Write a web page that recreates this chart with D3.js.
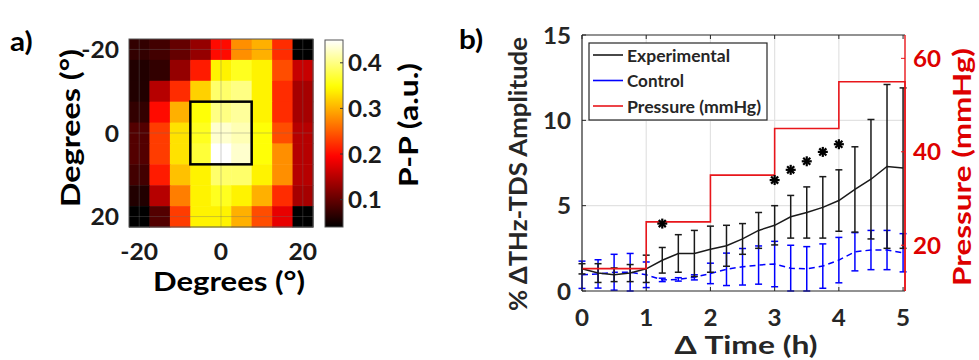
<!DOCTYPE html>
<html>
<head>
<meta charset="utf-8">
<script src="https://cdn.jsdelivr.net/npm/d3@7"></script>
<style>
  body { margin: 0; background: #fff; }
  text { font-family: Lato, "Open Sans", sans-serif; font-weight: 700; }
</style>
</head>
<body>
<div id="chart"></div>
<script>
// panel a: 9x9 peak-to-peak map, rows top (-20) to bottom (+20)
var degCenters = [-20, -15, -10, -5, 0, 5, 10, 15, 20];
var heatRows = [
  [0.07, 0.08, 0.10, 0.13, 0.20, 0.28, 0.30, 0.22, 0.04],
  [0.06, 0.07, 0.13, 0.21, 0.34, 0.36, 0.34, 0.24, 0.16],
  [0.06, 0.15, 0.22, 0.32, 0.39, 0.40, 0.34, 0.22, 0.14],
  [0.07, 0.20, 0.30, 0.35, 0.40, 0.41, 0.34, 0.22, 0.14],
  [0.09, 0.23, 0.33, 0.36, 0.43, 0.42, 0.35, 0.24, 0.15],
  [0.09, 0.23, 0.33, 0.37, 0.45, 0.43, 0.35, 0.28, 0.15],
  [0.08, 0.21, 0.31, 0.34, 0.39, 0.39, 0.34, 0.28, 0.15],
  [0.06, 0.15, 0.27, 0.34, 0.36, 0.34, 0.30, 0.22, 0.14],
  [0.04, 0.09, 0.23, 0.34, 0.34, 0.30, 0.24, 0.18, 0.04]
];
var degTicks = [-20, 0, 20];
var cbTicks = [0.1, 0.2, 0.3, 0.4];

// panel b: time series
var times = [0, 0.25, 0.5, 0.75, 1, 1.25, 1.5, 1.75, 2, 2.25, 2.5, 2.75, 3, 3.25, 3.5, 3.75, 4, 4.25, 4.5, 4.75, 5];
var expMean = [1.3, 1.05, 0.95, 1.05, 1.3, 1.8, 2.2, 2.2, 2.45, 2.65, 3.05, 3.55, 3.85, 4.35, 4.6, 4.9, 5.3, 5.95, 6.55, 7.3, 7.2];
var expErr  = [0.3, 0.55, 0.4, 0.5, 0.8, 0.75, 1.1, 1.35, 1.35, 1.2, 0.9, 1.05, 1.15, 1.25, 1.5, 1.8, 1.8, 2.5, 3.5, 4.8, 4.7];
var ctlMean = [0.95, 1.0, 1.1, 1.1, 0.95, 0.65, 0.68, 0.8, 1.03, 1.27, 1.42, 1.52, 1.58, 1.33, 1.3, 1.46, 1.81, 2.3, 2.4, 2.4, 2.24];
var ctlErr  = [0.8, 0.83, 1.05, 1.1, 0.75, 0.1, 0.1, 0.15, 0.6, 0.95, 1.07, 1.12, 1.33, 1.35, 1.3, 1.3, 1.33, 1.12, 1.15, 1.15, 1.12];
var pressStart = [0, 1, 2, 3, 4];
var pressVals = [15, 25, 35, 45, 55];
var starTimes = [1.25, 3, 3.25, 3.5, 3.75, 4];
var starVals = [3.95, 6.5, 7.1, 7.6, 8.15, 8.6];
var xTicks = [0, 1, 2, 3, 4, 5];
var yTicks = [0, 5, 10, 15];
var pTicks = [20, 40, 60];

var svg = d3.select("#chart").append("svg").attr("width", 979).attr("height", 360);

// the figure's lettering is wider than Lato: stretch glyphs sideways
function toWidth(sel, w) {
  return sel.attr("textLength", w).attr("lengthAdjust", "spacingAndGlyphs");
}
function widen(sel, k) {
  return toWidth(sel, sel.node().getComputedTextLength() * k);
}

// matlab "hot"
function hot(t) {
  t = Math.max(0, Math.min(1, t));
  var r = Math.min(1, t / 0.375), g = Math.max(0, Math.min(1, (t - 0.375) / 0.375)), b = Math.max(0, (t - 0.75) / 0.25);
  return d3.rgb(r * 255, g * 255, b * 255);
}
var cMin = 0.04, cMax = 0.45;
var color = function(v) { return hot((v - cMin) / (cMax - cMin)); };

// ---------- panel a ----------
var xa = d3.scaleLinear().domain([-22.5, 22.5]).range([129, 313]);
var ya = d3.scaleLinear().domain([-22.5, 22.5]).range([39, 227]);
var ga = svg.append("g");

heatRows.forEach(function(row, i) {
  row.forEach(function(v, j) {
    ga.append("rect")
      .attr("x", xa(degCenters[j] - 2.5)).attr("y", ya(degCenters[i] - 2.5))
      .attr("width", xa(2.5) - xa(-2.5) + 0.5).attr("height", ya(2.5) - ya(-2.5) + 0.5)
      .attr("fill", color(v));
  });
});
degTicks.forEach(function(d) {
  ga.append("line").attr("x1", xa(d)).attr("x2", xa(d)).attr("y1", ya(-22.5)).attr("y2", ya(22.5))
    .attr("stroke", "rgba(110,110,110,0.35)").attr("stroke-width", 1);
  ga.append("line").attr("y1", ya(d)).attr("y2", ya(d)).attr("x1", xa(-22.5)).attr("x2", xa(22.5))
    .attr("stroke", "rgba(110,110,110,0.35)").attr("stroke-width", 1);
});
// box region
ga.append("rect").attr("x", xa(-7.5)).attr("y", ya(-7.5))
  .attr("width", xa(7.5) - xa(-7.5)).attr("height", ya(7.5) - ya(-7.5))
  .attr("fill", "none").attr("stroke", "#000").attr("stroke-width", 2.5);
ga.append("rect").attr("x", xa(-22.5)).attr("y", ya(-22.5))
  .attr("width", xa(22.5) - xa(-22.5)).attr("height", ya(22.5) - ya(-22.5))
  .attr("fill", "none").attr("stroke", "#555").attr("stroke-width", 1);

degTicks.forEach(function(d) {
  widen(ga.append("text").attr("x", xa(d)).attr("y", 251).attr("text-anchor", "middle")
    .attr("dominant-baseline", "central").attr("font-size", 22).attr("fill", "#1a1a1a").text(d), 1.12);
  widen(ga.append("text").attr("x", 119).attr("y", ya(d)).attr("text-anchor", "end")
    .attr("dominant-baseline", "central").attr("font-size", 22).attr("fill", "#1a1a1a").text(d), 1.12);
});
toWidth(ga.append("text").attr("x", 229).attr("y", 281).attr("text-anchor", "middle")
  .attr("dominant-baseline", "central").attr("font-size", 26).text("Degrees (°)"), 152);
toWidth(ga.append("text").attr("transform", "translate(70,128) rotate(-90)").attr("text-anchor", "middle")
  .attr("dominant-baseline", "central").attr("font-size", 26).text("Degrees (°)"), 158);
widen(svg.append("text").attr("x", 10).attr("y", 51).attr("font-size", 27).text("a)"), 1.1);

// colorbar
var cb = d3.scaleLinear().domain([cMin, cMax]).range([227, 40]);
var grad = svg.append("defs").append("linearGradient").attr("id", "hotgrad")
  .attr("x1", 0).attr("x2", 0).attr("y1", 1).attr("y2", 0);
d3.range(0, 1.0001, 0.02).forEach(function(t) {
  grad.append("stop").attr("offset", t).attr("stop-color", hot(t));
});
svg.append("rect").attr("x", 325).attr("y", cb(cMax)).attr("width", 18).attr("height", cb(cMin) - cb(cMax))
  .attr("fill", "url(#hotgrad)").attr("stroke", "#555").attr("stroke-width", 1);
cbTicks.forEach(function(v) {
  svg.append("line").attr("x1", 340).attr("x2", 343).attr("y1", cb(v)).attr("y2", cb(v)).attr("stroke", "#333");
  widen(svg.append("text").attr("x", 348).attr("y", cb(v)).attr("dominant-baseline", "central")
    .attr("font-size", 22).attr("fill", "#1a1a1a").text(v.toFixed(1)), 1.1);
});
toWidth(svg.append("text").attr("transform", "translate(408,125) rotate(-90)").attr("text-anchor", "middle")
  .attr("dominant-baseline", "central").attr("font-size", 26).text("P-P (a.u.)"), 124);

// ---------- panel b ----------
var xb = d3.scaleLinear().domain([0, 5.03]).range([582, 905]);
var yl = d3.scaleLinear().domain([0, 15]).range([291, 35]);
var yr = d3.scaleLinear().domain([10.2, 65]).range([291, 35]);
var gb = svg.append("g");

[1, 2, 3, 4].forEach(function(t) {
  gb.append("line").attr("x1", xb(t)).attr("x2", xb(t)).attr("y1", yl(0)).attr("y2", yl(15))
    .attr("stroke", "#e2e2e2").attr("stroke-width", 1.2);
});
[5, 10].forEach(function(v) {
  gb.append("line").attr("x1", xb(0)).attr("x2", xb(5.03)).attr("y1", yl(v)).attr("y2", yl(v))
    .attr("stroke", "#e2e2e2").attr("stroke-width", 1.2);
});

function errBars(mean, err, col, dash) {
  var g = gb.append("g");
  times.forEach(function(t, i) {
    var lo = yl(Math.max(0, mean[i] - err[i])), hi = yl(mean[i] + err[i]), x = xb(t);
    g.append("line").attr("x1", x).attr("x2", x).attr("y1", lo).attr("y2", hi).attr("stroke", col).attr("stroke-width", 1.5);
    [lo, hi].forEach(function(y) {
      g.append("line").attr("x1", x - 3.5).attr("x2", x + 3.5).attr("y1", y).attr("y2", y).attr("stroke", col).attr("stroke-width", 1.5);
    });
  });
  var line = d3.line().x(function(d, i) { return xb(times[i]); }).y(function(d) { return yl(d); });
  g.append("path").datum(mean).attr("d", line).attr("fill", "none").attr("stroke", col)
    .attr("stroke-width", 1.5).attr("stroke-dasharray", dash);
}
errBars(ctlMean, ctlErr, "#0000ff", "6,4");
errBars(expMean, expErr, "#1a1a1a", null);

// pressure steps
var pressPts = pressStart.map(function(t, i) { return [t, pressVals[i]]; });
pressPts.push([5.03, pressVals[pressVals.length - 1]]);
pressPts.push([5.03, 10.2]);
gb.append("path").datum(pressPts)
  .attr("d", d3.line().curve(d3.curveStepAfter).x(function(d) { return xb(d[0]); }).y(function(d) { return yr(d[1]); }))
  .attr("fill", "none").attr("stroke", "#e8161b").attr("stroke-width", 1.6);

// asterisks
starTimes.forEach(function(t, i) {
  var cx = xb(t), cy = yl(starVals[i]), r = 5;
  [0, 45, 90, 135].forEach(function(a) {
    var dx = r * Math.cos(a * Math.PI / 180), dy = r * Math.sin(a * Math.PI / 180);
    gb.append("line").attr("x1", cx - dx).attr("x2", cx + dx).attr("y1", cy - dy).attr("y2", cy + dy)
      .attr("stroke", "#000").attr("stroke-width", 2.2);
  });
});

// frame and axes
gb.append("line").attr("x1", xb(0)).attr("x2", xb(5.03)).attr("y1", yl(15)).attr("y2", yl(15)).attr("stroke", "#262626").attr("stroke-width", 1.2);
gb.append("line").attr("x1", xb(0)).attr("x2", xb(5.03)).attr("y1", yl(0)).attr("y2", yl(0)).attr("stroke", "#262626").attr("stroke-width", 1.2);
gb.append("line").attr("x1", xb(0)).attr("x2", xb(0)).attr("y1", yl(0)).attr("y2", yl(15)).attr("stroke", "#262626").attr("stroke-width", 1.2);
gb.append("line").attr("x1", xb(5.03)).attr("x2", xb(5.03)).attr("y1", yl(0)).attr("y2", yl(15)).attr("stroke", "#e8161b").attr("stroke-width", 1.4);

xTicks.forEach(function(t) {
  gb.append("line").attr("x1", xb(t)).attr("x2", xb(t)).attr("y1", yl(0)).attr("y2", yl(0) - 4).attr("stroke", "#262626");
  gb.append("line").attr("x1", xb(t)).attr("x2", xb(t)).attr("y1", yl(15)).attr("y2", yl(15) + 4).attr("stroke", "#262626");
  widen(gb.append("text").attr("x", xb(t)).attr("y", 317).attr("text-anchor", "middle").attr("dominant-baseline", "central")
    .attr("font-size", 22).attr("fill", "#262626").text(t), 1.1);
});
yTicks.forEach(function(v) {
  gb.append("line").attr("x1", xb(0)).attr("x2", xb(0) + 4).attr("y1", yl(v)).attr("y2", yl(v)).attr("stroke", "#262626");
  widen(gb.append("text").attr("x", 571).attr("y", yl(v)).attr("text-anchor", "end").attr("dominant-baseline", "central")
    .attr("font-size", 22).attr("fill", "#262626").text(v), 1.1);
});
pTicks.forEach(function(v) {
  gb.append("line").attr("x1", xb(5.03)).attr("x2", xb(5.03) - 4).attr("y1", yr(v)).attr("y2", yr(v)).attr("stroke", "#e8161b");
  widen(gb.append("text").attr("x", 913).attr("y", yr(v)).attr("dominant-baseline", "central")
    .attr("font-size", 22).attr("fill", "#dd0000").text(v), 1.1);
});
toWidth(gb.append("text").attr("x", 746).attr("y", 344).attr("text-anchor", "middle").attr("dominant-baseline", "central")
  .attr("font-size", 24).attr("fill", "#262626").text("Δ Time (h)"), 143);
toWidth(gb.append("text").attr("transform", "translate(517,174) rotate(-90)").attr("text-anchor", "middle")
  .attr("dominant-baseline", "central").attr("font-size", 24).attr("fill", "#262626").text("% ΔTHz-TDS Amplitude"), 274);
toWidth(gb.append("text").attr("transform", "translate(961,167) rotate(-90)").attr("text-anchor", "middle")
  .attr("dominant-baseline", "central").attr("font-size", 24).attr("fill", "#dd0000").text("Pressure (mmHg)"), 238);
widen(svg.append("text").attr("x", 459).attr("y", 49).attr("font-size", 27).text("b)"), 1.1);

// legend
var legNames = ["Experimental", "Control", "Pressure (mmHg)"];
var legWidths = [103, 57, 134];
var legCols = ["#1a1a1a", "#0000ff", "#e8161b"];
var lg = svg.append("g");
lg.append("rect").attr("x", 589).attr("y", 43).attr("width", 178).attr("height", 77)
  .attr("fill", "#fff").attr("stroke", "#262626").attr("stroke-width", 1.2);
legNames.forEach(function(n, i) {
  var y = 55 + i * 25.5;
  lg.append("line").attr("x1", 593).attr("x2", 623).attr("y1", y).attr("y2", y).attr("stroke", legCols[i]).attr("stroke-width", 1.6);
  toWidth(lg.append("text").attr("x", 627).attr("y", y).attr("dominant-baseline", "central").attr("font-size", 17)
    .attr("fill", "#262626").text(n), legWidths[i]);
});
</script>
</body>
</html>
